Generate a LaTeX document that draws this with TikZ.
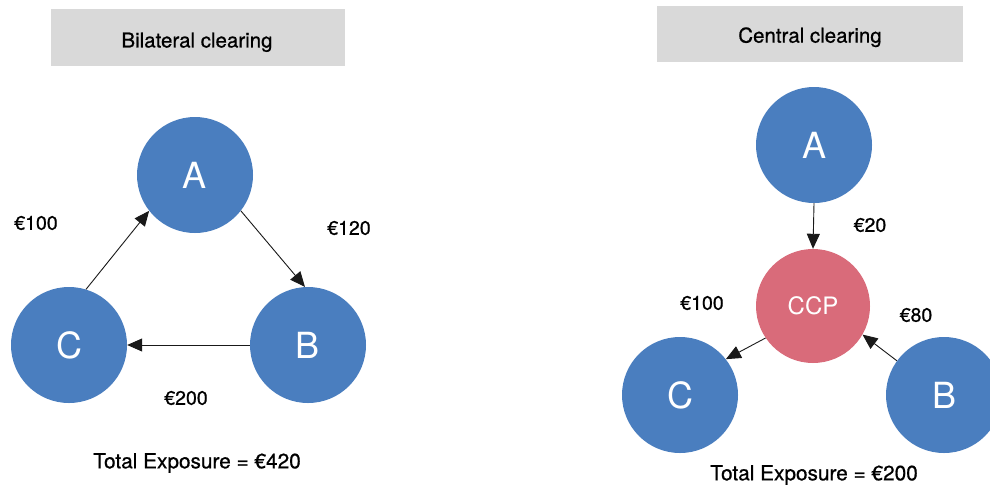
\documentclass[tikz,border=0pt]{standalone}
\usepackage{fontspec}
\setmainfont{TeX Gyre Heros}
\newfontfamily\medfont[FakeBold=0.7]{TeX Gyre Heros}
\usetikzlibrary{arrows.meta}
\definecolor{partyblue}{HTML}{4A7EBF}
\definecolor{ccppink}{HTML}{D96B7A}
\definecolor{headgray}{HTML}{D9D9D9}
\tikzset{
  party/.style={circle, fill=partyblue, draw=none, minimum size=116pt, inner sep=0pt,
    text=white, font=\fontsize{36}{36}\selectfont},
  ccpnode/.style={circle, fill=ccppink, draw=none, minimum size=114pt, inner sep=0pt,
    text=white, font=\fontsize{24}{24}\selectfont},
  header/.style={fill=headgray, draw=none, inner sep=0pt, text depth=0pt,
    font=\medfont\fontsize{20.5}{20.5}\selectfont},
  amount/.style={inner sep=0pt, font=\medfont\fontsize{19.5}{19.5}\selectfont},
  total/.style={inner sep=0pt, font=\medfont\fontsize{20.8}{20.8}\selectfont},
  flow/.style={draw=black!90, line width=0.9pt, -{Triangle[length=15pt,width=13pt]}}
}
\begin{document}
\begin{tikzpicture}[x=1pt, y=-1pt]
  \useasboundingbox[fill=white] (0,0) rectangle (990,485);
  \clip (0,0) rectangle (990,485);

  % Bilateral clearing
  \node[header, minimum width=294pt, minimum height=57pt] (hl) at (198,37.5) {};
  \node[header, fill=none] (hlt) at (197,40) {Bilateral clearing};
  \node[party] (A1) at (195,175) {A};
  \node[party] (B1) at (308,345) {B};
  \node[party] (C1) at (69,345) {C};
  \draw[flow] (A1.-38) -- (B1.93);
  \draw[flow] (B1.west) -- (C1.east);
  \draw[flow] (C1.73) -- (A1.218);
  \node[amount] (l100) at (36,223) {€100};
  \node[amount] (l120) at (349,228) {€120};
  \node[amount] (l200) at (186,398) {€200};
  \node[total] (tl) at (197,463) {Total Exposure = €420};

  % Central clearing
  \node[header, minimum width=306pt, minimum height=56pt] (hr) at (810,34) {};
  \node[header, fill=none] (hrt) at (810,35) {Central clearing};
  \node[party] (A2) at (814,145) {A};
  \node[ccpnode] (ccp) at (813,306) {CCP};
  \node[party] (C2) at (680,395) {C};
  \node[party] (B2) at (944,395) {B};
  \draw[flow] (A2.south) -- (ccp.north);
  \draw[flow] (ccp.214) -- (C2.38);
  \draw[flow] (B2.144) -- (ccp.-30);
  \node[amount] (r20) at (870,225) {€20};
  \node[amount] (r100) at (702,303) {€100};
  \node[amount] (r80) at (916,315) {€80};
  \node[total] (tr) at (814,475) {Total Exposure = €200};
\end{tikzpicture}
\end{document}
